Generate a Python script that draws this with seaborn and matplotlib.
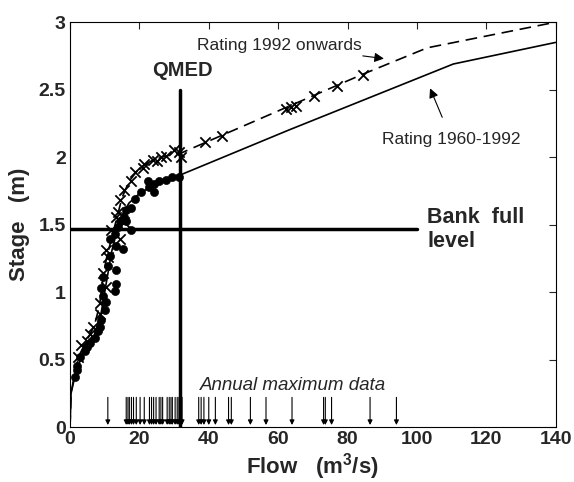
import matplotlib
matplotlib.use("Agg")
import matplotlib.pyplot as plt
import seaborn as sns
import numpy as np
import pandas as pd

# ---- data ----
# Rating curves (flow m3/s, stage m)
rating_old_flow  = [0, 0.3, 1, 2, 3, 5, 7, 9, 10, 11, 12, 13.5, 15, 17, 20, 24, 28, 32, 63, 110.5, 140]
rating_old_stage = [0, 0.25, 0.33, 0.42, 0.5, 0.6, 0.68, 0.85, 1.0, 1.15, 1.3, 1.45, 1.57, 1.66, 1.73, 1.79, 1.83, 1.87, 2.2, 2.69, 2.85]
rating_new_flow  = [0, 0.3, 1, 2, 3, 5, 7, 8.5, 9.5, 10.5, 12, 13.5, 15, 17, 20, 24, 28, 32, 84, 103, 140]
rating_new_stage = [0, 0.25, 0.35, 0.47, 0.55, 0.65, 0.75, 0.9, 1.1, 1.25, 1.4, 1.55, 1.7, 1.82, 1.92, 1.98, 2.01, 2.03, 2.61, 2.81, 3.0]

# Gaugings 1960-1992 (dots)
old_flow  = [31.4, 29.5, 27.6, 25.7, 24.3, 24.3, 22.9, 22.4, 20.5, 18.6, 17.6, 16.2, 15.7, 14.3, 16.2,
             17.6, 13.8, 12.9, 11.4, 15.2, 13.3, 11.4, 11.0, 13.3, 9.5, 13.3, 9.0, 12.9, 9.5, 10.5,
             10.0, 9.0, 8.6, 8.1, 7.1, 5.7, 4.8, 4.3, 2.9, 1.9, 1.9, 1.4]
old_stage = [1.85, 1.85, 1.83, 1.82, 1.80, 1.74, 1.78, 1.82, 1.74, 1.69, 1.62, 1.61, 1.56, 1.53, 1.53,
             1.46, 1.48, 1.43, 1.39, 1.32, 1.34, 1.27, 1.19, 1.16, 1.11, 1.06, 1.03, 1.01, 0.97, 0.93,
             0.87, 0.79, 0.74, 0.71, 0.66, 0.62, 0.59, 0.56, 0.52, 0.45, 0.42, 0.37]

# Gaugings 1992 onwards (crosses)
new_flow  = [31.4, 31.9, 30.0, 27.6, 26.2, 25.2, 23.8, 21.4, 20.9, 18.6, 17.6, 15.7, 14.3, 13.8, 13.3,
             15.7, 11.9, 14.3, 10.5, 11.0, 9.5, 10.5, 8.6, 8.6, 6.7, 5.7, 4.8, 3.3, 2.4,
             39.0, 43.8, 62.4, 63.8, 65.2, 70.3, 77.1, 84.6]
new_stage = [2.04, 2.00, 2.05, 2.01, 2.00, 1.97, 1.98, 1.95, 1.92, 1.89, 1.82, 1.76, 1.68, 1.59, 1.56,
             1.52, 1.46, 1.39, 1.31, 1.26, 1.14, 1.04, 0.92, 0.84, 0.74, 0.69, 0.64, 0.61, 0.52,
             2.11, 2.16, 2.36, 2.37, 2.38, 2.45, 2.53, 2.61]

# Annual maximum flows
annual_max = [10.9, 16.2, 16.7, 17.1, 17.7, 18.3, 19.1, 20.2, 21.4, 22.9, 23.5, 24.1, 24.8, 25.7,
              26.2, 26.7, 28.0, 28.6, 29.1, 29.5, 30.3, 30.9, 31.4, 32.0, 32.3, 37.1, 37.8, 38.6,
              40.0, 41.9, 45.7, 46.5, 52.0, 56.5, 64.0, 73.1, 73.6, 75.4, 86.5, 94.1]

qmed = 31.7
bankfull = 1.47

x_ticks = [0, 20, 40, 60, 80, 100, 120, 140]
y_ticks = [0, 0.5, 1, 1.5, 2, 2.5, 3]
y_ticklabels = ["0", "0.5", "1", "1.5", "2", "2.5", "3"]

# ---- style ----
sns.set_style("white")
plt.rcParams['font.family'] = ['Liberation Sans', 'DejaVu Sans']
plt.rcParams['mathtext.fontset'] = 'custom'
plt.rcParams['mathtext.rm'] = 'Liberation Sans:bold'
plt.rcParams['mathtext.bf'] = 'Liberation Sans:bold'

fig = plt.figure(figsize=(5.74, 4.82), dpi=100)
ax = fig.add_axes([0.122, 0.114, 0.846, 0.840])

old_df = pd.DataFrame({"flow": rating_old_flow, "stage": rating_old_stage})
new_df = pd.DataFrame({"flow": rating_new_flow, "stage": rating_new_stage})
sns.lineplot(data=old_df, x="flow", y="stage", sort=False, estimator=None, color="black", lw=1.2, ax=ax)
sns.lineplot(data=new_df, x="flow", y="stage", sort=False, estimator=None, color="black", lw=1.2,
             ax=ax, linestyle=(0, (7, 4)))

sns.scatterplot(x=old_flow, y=old_stage, marker="o", s=34, color="black", edgecolor="black", ax=ax, zorder=3)
sns.scatterplot(x=new_flow, y=new_stage, marker="x", s=55, color="black", linewidth=1.3, ax=ax, zorder=3)

# QMED and bankfull lines
ax.plot([qmed, qmed], [0, 2.5], color="black", lw=2.5, zorder=4)
ax.plot([0, 100], [bankfull, bankfull], color="black", lw=2.5, zorder=4)

# annual maxima arrows
for q in annual_max:
    ax.annotate("", xy=(q, 0.015), xytext=(q, 0.22),
                arrowprops=dict(arrowstyle="-|>", lw=0.8, color="black", mutation_scale=7,
                                shrinkA=0, shrinkB=0))

ax.text(37.5, 0.31, "Annual maximum data", fontsize=13.5, style="italic", va="center", ha="left")
ax.text(32.5, 2.64, "QMED", fontsize=14.5, fontweight="bold", ha="center", va="center")
ax.text(103, 1.465, "Bank  full\nlevel", fontsize=15.5, fontweight="bold", ha="left", va="center",
        linespacing=1.2)

ax.annotate("Rating 1992 onwards", xy=(90.5, 2.73), xytext=(84, 2.83), fontsize=12.5,
            ha="right", va="center",
            arrowprops=dict(arrowstyle="-|>", lw=0.8, color="black", mutation_scale=14, shrinkA=0, shrinkB=0))
ax.annotate("Rating 1960-1992", xy=(103.8, 2.51), xytext=(110, 2.13), fontsize=12.5,
            ha="center", va="center",
            arrowprops=dict(arrowstyle="-|>", lw=0.8, color="black", mutation_scale=14, shrinkA=9, shrinkB=0))

ax.set_xlim(0, 140)
ax.set_ylim(0, 3)
ax.set_xticks(x_ticks)
ax.set_yticks(y_ticks)
ax.set_yticklabels(y_ticklabels)
ax.tick_params(direction="in", length=5, width=0.8, top=True, right=True,
               labelsize=14, pad=3)
for lab in ax.get_xticklabels() + ax.get_yticklabels():
    lab.set_fontweight("bold")
for sp in ax.spines.values():
    sp.set_visible(True)
    sp.set_color("black")
    sp.set_linewidth(0.8)

ax.set_xlabel(r"Flow   (m$^3$/s)", fontsize=16, fontweight="bold", labelpad=2)
ax.set_ylabel("Stage   (m)", fontsize=16, fontweight="bold", labelpad=6)

fig.savefig("out.png", dpi=100)
